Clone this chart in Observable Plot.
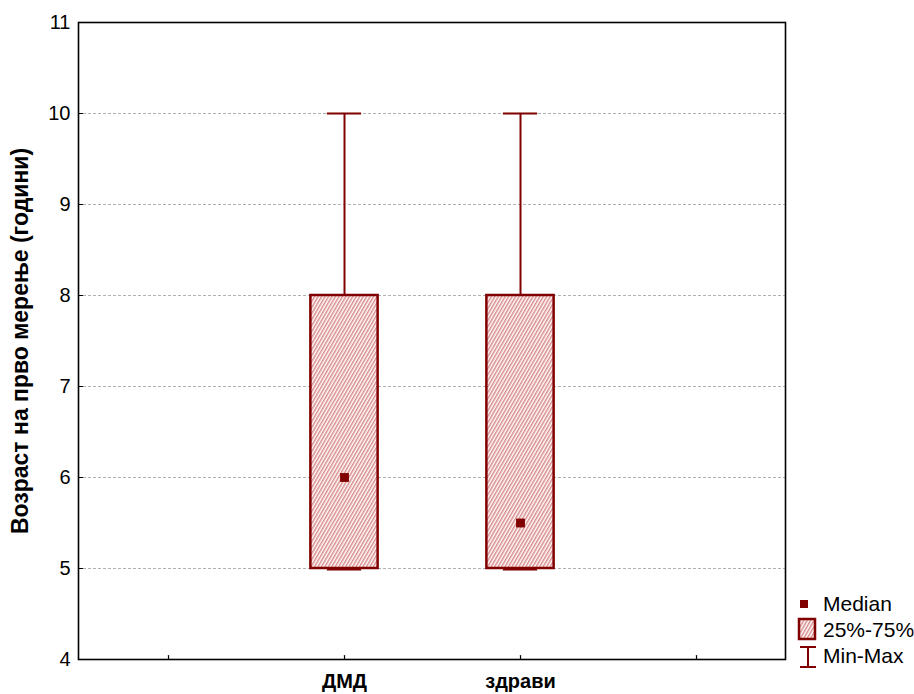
<!DOCTYPE html>
<html>
<head>
<meta charset="utf-8">
<script src="https://cdn.jsdelivr.net/npm/d3@7"></script>
<script src="https://cdn.jsdelivr.net/npm/@observablehq/plot@0.6"></script>
<style>
  body { margin: 0; background: #fff; font-family: "Liberation Sans", Arial, sans-serif; overflow: hidden; }
  #wrap { position: relative; width: 914px; height: 694px; }
  #wrap > svg { display: block; }
  #legend { position: absolute; left: 795px; top: 592px; }
</style>
</head>
<body>
<div id="wrap"></div>
<script>
const categories = ["ДМД", "здрави"];
const slots = ["", "ДМД", "здрави", " "];
const minVals = [5, 5];
const q1Vals = [5, 5];
const medianVals = [6, 5.5];
const q3Vals = [8, 8];
const maxVals = [10, 10];
const yTicks = [4, 5, 6, 7, 8, 9, 10, 11];
const gridTicks = [5, 6, 7, 8, 9, 10];
const yTitle = "Возраст на прво мерење (години)";

const data = categories.map((c, i) => ({
  cat: c, min: minVals[i], q1: q1Vals[i], med: medianVals[i], q3: q3Vals[i], max: maxVals[i]
}));

const W = 914, H = 694;
const mL = 78, mR = 129, mT = 22, mB = 35;
const band = (W - mL - mR) / slots.length;
const boxInset = (band - 68) / 2;
const capInset = (band - 35) / 2;
const red = "#800000";

const stub = { draw(context, l) { context.moveTo(0, 0); context.lineTo(0, -l); } };

const plot = Plot.plot({
  width: W, height: H,
  marginLeft: mL, marginRight: mR, marginTop: mT, marginBottom: mB,
  style: { fontFamily: "Liberation Sans, Arial, sans-serif", background: "#fff" },
  x: { type: "band", domain: slots, padding: 0, label: null },
  y: { domain: [4, 11], label: null },
  marks: [
    Plot.ruleY(gridTicks, { stroke: "#b0b0b0", strokeDasharray: "3,2", strokeWidth: 1 }),
    Plot.ruleX(data, { x: "cat", y1: "q3", y2: "max", stroke: red, strokeWidth: 2 }),
    Plot.ruleX(data, { x: "cat", y1: "min", y2: "q1", stroke: red, strokeWidth: 2 }),
    Plot.tickY(data, { x: "cat", y: "max", stroke: red, strokeWidth: 2, insetLeft: capInset, insetRight: capInset }),
    Plot.tickY(data, { x: "cat", y: "min", stroke: red, strokeWidth: 2, insetLeft: capInset, insetRight: capInset, dy: 1 }),
    Plot.barY(data, { x: "cat", y1: "q1", y2: "q3", fill: "url(#hatch)", stroke: red, strokeWidth: 2.5, insetLeft: boxInset, insetRight: boxInset }),
    Plot.dot(data, { x: "cat", y: "med", symbol: "square", r: 5, fill: red, stroke: null }),
    Plot.axisY({ ticks: yTicks, tickFormat: "d", tickSize: 0, tickPadding: 8, fontSize: 20, color: "#000", label: null }),
    Plot.axisX({ ticks: categories, tickSize: 0, tickPadding: 14, fontSize: 20, fontWeight: "bold", color: "#000", label: null }),
    Plot.text([yTitle], {
      text: d => d, frameAnchor: "left", dx: -58, rotate: -90, textAnchor: "middle",
      fontSize: 23, fontWeight: "bold", fill: "#000"
    }),
    Plot.vector(yTicks, { y: d => d, frameAnchor: "left", rotate: 90, length: 4, anchor: "start", shape: stub, stroke: "#000", strokeWidth: 1.2 }),
    Plot.vector(slots, { x: d => d, frameAnchor: "bottom", rotate: 0, length: 4, anchor: "start", shape: stub, stroke: "#000", strokeWidth: 1.2 }),
    Plot.frame({ stroke: "#000", strokeWidth: 1.6 })
  ]
});

const defs = d3.select(plot).insert("defs", ":first-child");
const pat = defs.append("pattern").attr("id", "hatch").attr("patternUnits", "userSpaceOnUse")
  .attr("width", 3).attr("height", 3).attr("patternTransform", "rotate(30)");
pat.append("rect").attr("width", 3).attr("height", 3).attr("fill", "#fff");
pat.append("line").attr("x1", 0.75).attr("y1", 0).attr("x2", 0.75).attr("y2", 3)
  .attr("stroke", "#d98a8a").attr("stroke-width", 1.5);

const wrap = document.getElementById("wrap");
wrap.appendChild(plot);

const legend = document.createElement("div");
legend.id = "legend";
legend.innerHTML = `<svg width="119" height="80" xmlns="http://www.w3.org/2000/svg" font-family="Liberation Sans, Arial, sans-serif" font-size="21"><rect x="5" y="8" width="8" height="8" fill="#800000"/><text x="28" y="19" fill="#000">Median</text><rect x="4" y="27" width="16" height="20" fill="url(#hatch)" stroke="#800000" stroke-width="2.5"/><text x="28" y="45" fill="#000">25%-75%</text><line x1="5" x2="21" y1="55" y2="55" stroke="#800000" stroke-width="2"/><line x1="13" x2="13" y1="55" y2="75" stroke="#800000" stroke-width="2"/><line x1="5" x2="21" y1="75" y2="75" stroke="#800000" stroke-width="2"/><text x="28" y="71" fill="#000">Min-Max</text></svg>`;
wrap.appendChild(legend);
</script>
</body>
</html>
